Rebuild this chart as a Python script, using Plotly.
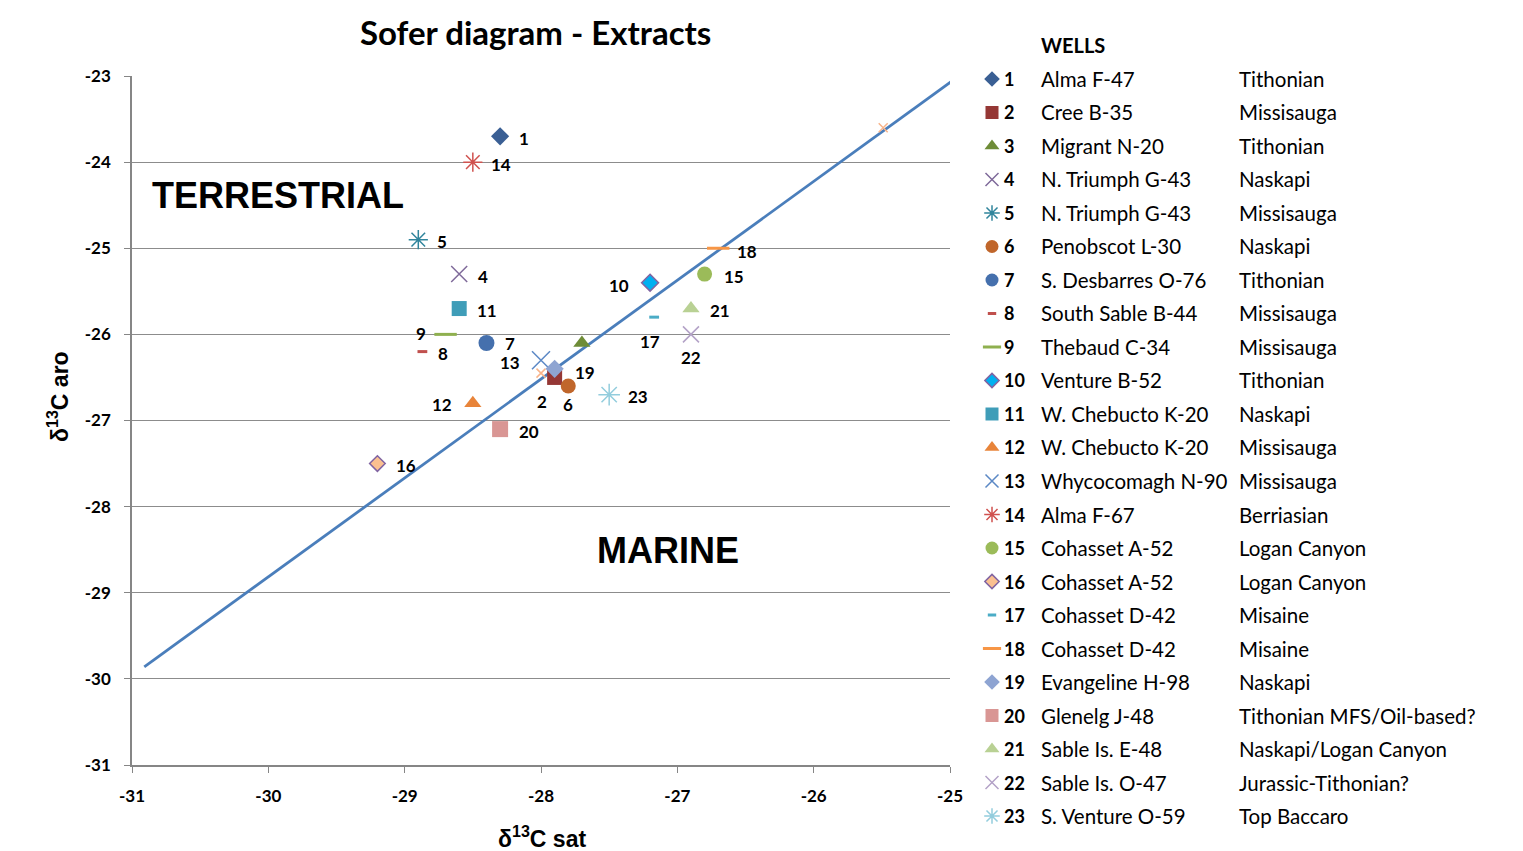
import plotly.graph_objects as go

W, H = 1523, 851

# ---------------- data ----------------
ids = list(range(1, 24))
wells = ["Alma F-47", "Cree B-35", "Migrant N-20", "N. Triumph G-43", "N. Triumph G-43",
         "Penobscot L-30", "S. Desbarres O-76", "South Sable B-44", "Thebaud C-34",
         "Venture B-52", "W. Chebucto K-20", "W. Chebucto K-20", "Whycocomagh N-90",
         "Alma F-67", "Cohasset A-52", "Cohasset A-52", "Cohasset D-42", "Cohasset D-42",
         "Evangeline H-98", "Glenelg J-48", "Sable Is. E-48", "Sable Is. O-47",
         "S. Venture O-59"]
formations = ["Tithonian", "Missisauga", "Tithonian", "Naskapi", "Missisauga", "Naskapi",
              "Tithonian", "Missisauga", "Missisauga", "Tithonian", "Naskapi", "Missisauga",
              "Missisauga", "Berriasian", "Logan Canyon", "Logan Canyon", "Misaine", "Misaine",
              "Naskapi", "Tithonian MFS/Oil-based?", "Naskapi/Logan Canyon",
              "Jurassic-Tithonian?", "Top Baccaro"]
sat = [-28.3, -27.9, -27.7, -28.6, -28.9, -27.8, -28.4, -28.87, -28.7, -27.2, -28.6, -28.5,
       -28.0, -28.5, -26.8, -29.2, -27.17, -26.7, -27.9, -28.3, -26.9, -26.9, -27.5]
aro = [-23.7, -26.5, -26.1, -25.3, -24.9, -26.6, -26.1, -26.2, -26.0, -25.4, -25.7, -26.8,
       -26.3, -24.0, -25.3, -27.5, -25.8, -25.0, -26.4, -27.1, -25.7, -26.0, -26.7]
extra_sat = [-28.0, -25.49]
extra_aro = [-26.45, -23.6]
sofer_sat = [-30.91, -24.96]
sofer_aro = [-29.86, -23.03]
x_ticks = [-31, -30, -29, -28, -27, -26, -25]
y_ticks = [-31, -30, -29, -28, -27, -26, -25, -24, -23]
x_ticktext = [str(v) for v in x_ticks]
y_ticktext = [str(v) for v in y_ticks]

# ---------------- styles ----------------
sym = ["diamond", "square", "triangle-up", "x-thin-open", "asterisk-open", "circle", "circle",
       "line-ew-open", "line-ew-open", "diamond", "square", "triangle-up", "x-thin-open",
       "asterisk-open", "circle", "diamond", "line-ew-open", "line-ew-open", "diamond",
       "square", "triangle-up", "x-thin-open", "asterisk-open"]
col = ["#3A5F94", "#953735", "#6E8C37", "#7F6A9A", "#31859C", "#C0662B", "#4570AD",
       "#C0504D", "#8FB04F", "#00B0F0", "#3F9DB8", "#E8843A", "#5B88C5", "#D0524F",
       "#9BBB59", "#FAC090", "#4BACC6", "#F79646", "#8EA4D2", "#D99694", "#B9D194",
       "#B3A2C7", "#93CDDD"]
lcol = [None] * 23
lcol[9] = "#8064A2"
lcol[15] = "#8064A2"
msize = [14, 15, 15, 16, 16, 15, 16, 7, 16, 13, 15, 15, 18, 16, 15, 12, 7, 16, 14, 16, 15, 16, 18]
lg_size = [12, 13, 13, 13, 13, 13, 13, 6, 13, 11, 13, 13, 13, 13, 13, 11, 6, 13, 12, 13, 13, 13, 13]
# label offsets (pixels; dx right, dy up)
lab_dx = [24, -13, None, 24, 24, 0, 24, 21, -25, -31, 28, -31, -31, 28, 29, 29, -4, 29, 30, 29, 29, 0, 29]
lab_dy = [-2, -24, None, -2, -2, -18, -1, -2, 1, -3, -2, -1, -2, -2, -2, -2, -24, -3, -4, -2, -2, -23, -2]

FONT = "Lato"

fig = go.Figure()

# Sofer line
fig.add_trace(go.Scatter(x=sofer_sat, y=sofer_aro, mode="lines",
                         line=dict(color="#4A7EBB", width=2.8), hoverinfo="skip",
                         showlegend=False))

# unlabeled small orange x marks
fig.add_trace(go.Scatter(x=extra_sat, y=extra_aro, mode="markers", showlegend=False,
                         marker=dict(symbol="x-thin-open", size=9, color="#F9B48A",
                                     line=dict(color="#F9B48A", width=1.5))))


def marker_dict(i, size):
    s = sym[i]
    if s.endswith("-open"):
        lw = 3 if s.startswith("line") else 1.5
        return dict(symbol=s, size=size, color=col[i], line=dict(color=col[i], width=lw))
    lc = lcol[i] if lcol[i] else col[i]
    lw = 1.5 if lcol[i] else 0
    return dict(symbol=s, size=size, color=col[i], line=dict(color=lc, width=lw))


for i in range(23):
    fig.add_trace(go.Scatter(x=[sat[i]], y=[aro[i]], mode="markers", name=str(ids[i]),
                             showlegend=False, marker=marker_dict(i, msize[i])))
    # legend glyph
    fig.add_trace(go.Scatter(x=[0.5], y=[ids[i]], mode="markers", xaxis="x2", yaxis="y2",
                             showlegend=False, hoverinfo="skip",
                             marker=marker_dict(i, lg_size[i])))

annotations = []
# point labels
for i in range(23):
    if lab_dx[i] is None:
        continue
    annotations.append(dict(x=sat[i], y=aro[i], xref="x", yref="y", text=f"<b>{ids[i]}</b>",
                            showarrow=False, xshift=lab_dx[i], yshift=lab_dy[i],
                            xanchor="center", yanchor="middle",
                            font=dict(family=FONT, size=17, color="#000")))

# legend text
for i in range(23):
    annotations.append(dict(x=1002 / W, y=ids[i], xref="paper", yref="y2", xanchor="left",
                            yanchor="middle", text=f"<b>{ids[i]}</b>", showarrow=False,
                            font=dict(family=FONT, size=18, color="#000")))
    annotations.append(dict(x=1039 / W, y=ids[i], xref="paper", yref="y2", xanchor="left",
                            yanchor="middle", text=wells[i], showarrow=False,
                            font=dict(family=FONT, size=20.5, color="#000")))
    annotations.append(dict(x=1237 / W, y=ids[i], xref="paper", yref="y2", xanchor="left",
                            yanchor="middle", text=formations[i], showarrow=False,
                            font=dict(family=FONT, size=20.5, color="#000")))
annotations.append(dict(x=1039 / W, y=1 - 45 / H, xref="paper", yref="paper", xanchor="left",
                        yanchor="middle", text="<b>WELLS</b>", showarrow=False,
                        font=dict(family=FONT, size=20, color="#000")))

# title and regions
annotations.append(dict(x=535 / W, y=1 - 32 / H, xref="paper", yref="paper",
                        xanchor="center", yanchor="middle",
                        text="<b>Sofer diagram - Extracts</b>", showarrow=False,
                        font=dict(family=FONT, size=33, color="#000")))
annotations.append(dict(x=150 / W, y=1 - 195 / H, xref="paper", yref="paper", xanchor="left",
                        yanchor="middle", text="<b>TERRESTRIAL</b>", showarrow=False,
                        font=dict(family="Liberation Sans", size=36, color="#000")))
annotations.append(dict(x=668 / W, y=1 - 550 / H, xref="paper", yref="paper",
                        xanchor="center", yanchor="middle",
                        text="<b>MARINE</b>", showarrow=False,
                        font=dict(family="Liberation Sans", size=36, color="#000")))
# axis titles
annotations.append(dict(x=542 / W, y=1 - 837 / H, xref="paper", yref="paper",
                        xanchor="center", yanchor="middle",
                        text="<b>δ<sup>13</sup>C sat</b>", showarrow=False,
                        font=dict(family="Liberation Sans", size=23, color="#000")))
annotations.append(dict(x=58 / W, y=1 - 397 / H, xref="paper", yref="paper", textangle=-90,
                        xanchor="center", yanchor="middle",
                        text="<b>δ<sup>13</sup>C aro</b>", showarrow=False,
                        font=dict(family="Liberation Sans", size=23, color="#000")))

fig.update_layout(
    width=W, height=H,
    margin=dict(l=0, r=0, t=0, b=0, pad=0),
    paper_bgcolor="white", plot_bgcolor="white",
    showlegend=False,
    annotations=annotations,
    xaxis=dict(domain=[132 / W, 950 / W], range=[-31, -25], tickvals=x_ticks,
               ticktext=x_ticktext,
               showgrid=False, zeroline=False, showline=True, linecolor="#868686",
               linewidth=1.5, ticks="outside", ticklen=6, tickcolor="#868686",
               ticklabelstandoff=9, automargin=False,
               tickfont=dict(family=FONT, size=17, color="#000", weight="bold"),
               anchor="y"),
    yaxis=dict(domain=[1 - 765 / H, 1 - 76 / H], range=[-31, -23], tickvals=y_ticks,
               ticktext=y_ticktext,
               showgrid=True, gridcolor="#8C8C8C", gridwidth=1.2, zeroline=False,
               showline=True, linecolor="#868686", linewidth=1.5, ticks="outside",
               ticklen=6, tickcolor="#868686", ticklabelstandoff=10, automargin=False,
               tickfont=dict(family=FONT, size=17, color="#000", weight="bold"),
               anchor="x"),
    xaxis2=dict(domain=[980 / W, 1004 / W], range=[0, 1], visible=False, anchor="y2",
                fixedrange=True),
    yaxis2=dict(domain=[1 - 832.75 / H, 1 - 62.25 / H], range=[23.5, 0.5], visible=False,
                anchor="x2", fixedrange=True),
)

fig.write_html("out.html", config={"displayModeBar": False},
               post_script="document.body.style.margin='0px';document.body.style.padding='0px';")
